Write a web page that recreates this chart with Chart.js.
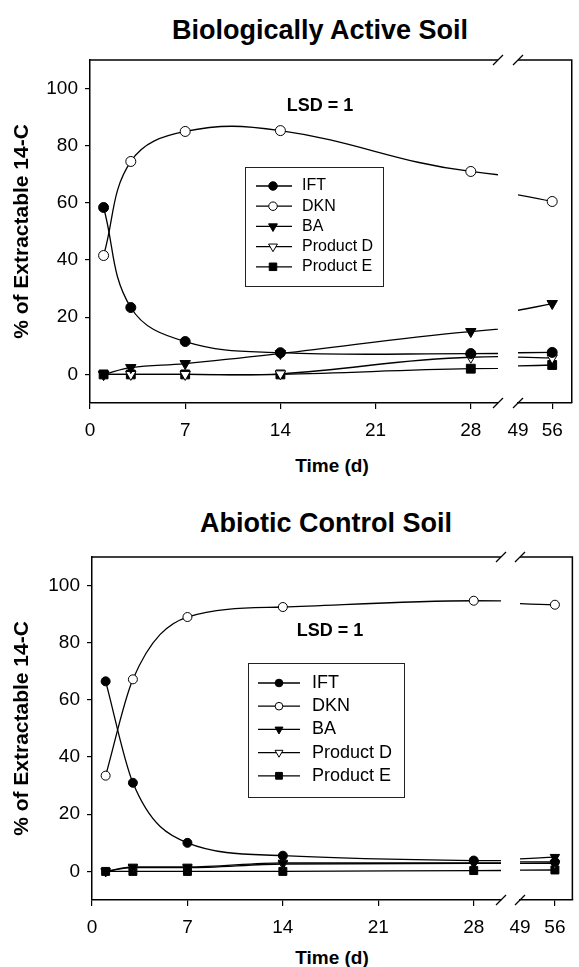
<!DOCTYPE html>
<html>
<head>
<meta charset="utf-8">
<script src="https://cdn.jsdelivr.net/npm/chart.js@4.4.0/dist/chart.umd.min.js"></script>
<style>
  html, body { margin: 0; padding: 0; background: #fff; }
  #page { position: relative; width: 579px; height: 967px; overflow: hidden; background: #fff;
          font-family: "Liberation Sans", Arial, sans-serif; color: #000; }
  canvas { position: absolute; left: 0; }
  .lbl { position: absolute; transform: translate(-50%, -50%); white-space: nowrap; font-weight: bold; }
</style>
</head>
<body>
<div id="page">
  <div class="lbl" style="left:320px;top:30px;font-size:27px">Biologically Active Soil</div>
  <canvas id="bioLeft" width="579" height="450" style="top:0px"></canvas>
  <canvas id="bioRight" width="579" height="450" style="top:0px"></canvas>
  <div class="lbl" style="left:320px;top:105px;font-size:18px">LSD = 1</div>
  <div class="lbl" style="left:332px;top:466px;font-size:19px">Time (d)</div>

  <div class="lbl" style="left:326px;top:523px;font-size:27px">Abiotic Control Soil</div>
  <canvas id="abioLeft" width="579" height="450" style="top:497px"></canvas>
  <canvas id="abioRight" width="579" height="450" style="top:497px"></canvas>
  <div class="lbl" style="left:330px;top:630px;font-size:18px">LSD = 1</div>
  <div class="lbl" style="left:332px;top:958px;font-size:19px">Time (d)</div>
</div>
<script>
// sampling days
const days = [1, 3, 7, 14, 28, 56];
const seriesNames = ['IFT', 'DKN', 'BA', 'Product D', 'Product E'];

// biologically active soil
const bioIFT = [58.4, 23.4, 11.5, 7.6, 7.3, 7.7];
const bioDKN = [41.6, 74.5, 85.0, 85.3, 71.0, 60.5];
const bioBA = [0, 2.4, 3.8, 7.3, 15.0, 24.8];
const bioProdD = [0, 0, 0, 0.2, 6.0, 5.8];
const bioProdE = [0, 0, 0, 0, 2.0, 3.3];

// abiotic control soil
const abioIFT = [66.5, 31.0, 10.0, 5.5, 3.8, 3.3];
const abioDKN = [33.5, 67.2, 89.0, 92.5, 94.7, 93.3];
const abioBA = [0, 1.6, 1.6, 3.0, 3.0, 5.0];
const abioProdD = [0, 1.3, 1.3, 2.6, 2.8, 2.8];
const abioProdE = [0, 0, 0, 0, 0.3, 0.5];

const yTicks = [0, 20, 40, 60, 80, 100];
const xTicksLeft = [0, 7, 14, 21, 28];
const xTicksRight = [49, 56];

const FONT = '"Liberation Sans", Arial, sans-serif';
Chart.defaults.font.family = FONT;
Chart.defaults.color = '#000';

const markers = [
  {style: 'circle', rot: 0, fill: '#000', k: 1},
  {style: 'circle', rot: 0, fill: '#fff', k: 1},
  {style: 'triangle', rot: 180, fill: '#000', k: 1.2},
  {style: 'triangle', rot: 180, fill: '#fff', k: 1.2},
  {style: 'rect', rot: 0, fill: '#000', k: 1.25}
];

const panels = [
  {id: 'bio', values: [bioIFT, bioDKN, bioBA, bioProdD, bioProdE], curve: 'default',
   axisW: 90, leftEnd: 498, rightStart: 518, rightMax: 60, r: 5,
   legend: {x: 245, y: 167, w: 138, h: 119, row0: 186, step: 20.2, lx1: 256, lx2: 292, mx: 273, tx: 302, font: 16}},
  {id: 'abio', values: [abioIFT, abioDKN, abioBA, abioProdD, abioProdE], curve: 'monotone',
   axisW: 92, leftEnd: 501, rightStart: 520, rightMax: 59.5, r: 4.5,
   legend: {x: 248, y: 166, w: 156, h: 134, row0: 186, step: 23.2, lx1: 258, lx2: 300, mx: 279, tx: 312, font: 18}}
];

const frame = {
  id: 'frame',
  afterDraw(chart, args, o) {
    const {left, right, top, bottom} = chart.chartArea;
    const ctx = chart.ctx;
    ctx.save();
    ctx.strokeStyle = '#000';
    ctx.lineWidth = 1.5;
    ctx.beginPath();
    ctx.moveTo(left, top);
    ctx.lineTo(right, top);
    if (o.side === 'right') ctx.lineTo(right, bottom);
    ctx.stroke();
    // axis break marks
    const bx = o.side === 'right' ? left : right;
    ctx.lineWidth = 1.2;
    [top, bottom].forEach(y => {
      ctx.beginPath();
      ctx.moveTo(bx - 5, y + 5);
      ctx.lineTo(bx + 5, y - 5);
      ctx.stroke();
    });
    ctx.restore();
  }
};

const legendBox = {
  id: 'legendBox',
  afterDatasetsDraw(chart, args, o) {
    const ctx = chart.ctx;
    ctx.save();
    ctx.fillStyle = '#fff';
    ctx.fillRect(o.x, o.y, o.w, o.h);
    ctx.strokeStyle = '#222';
    ctx.lineWidth = 1;
    ctx.strokeRect(o.x + 0.5, o.y + 0.5, o.w, o.h);
    chart.data.datasets.forEach((ds, i) => {
      const y = o.row0 + i * o.step;
      ctx.strokeStyle = '#000';
      ctx.lineWidth = 1.3;
      ctx.beginPath();
      ctx.moveTo(o.lx1, y);
      ctx.lineTo(o.lx2, y);
      ctx.stroke();
      ctx.fillStyle = ds.pointBackgroundColor;
      ctx.lineWidth = 1;
      Chart.helpers.drawPoint(ctx, {pointStyle: ds.pointStyle, rotation: ds.pointRotation,
        radius: ds.pointRadius * 0.85, borderWidth: 1}, o.mx, y);
      ctx.fillStyle = '#000';
      ctx.font = o.font + 'px ' + FONT;
      ctx.textBaseline = 'middle';
      ctx.textAlign = 'left';
      ctx.fillText(ds.label, o.tx, y);
    });
    ctx.restore();
  }
};

function makeDatasets(values, r, curve) {
  return values.map((vals, i) => ({
    label: seriesNames[i],
    data: days.map((d, j) => ({x: d, y: vals[j]})),
    borderColor: '#000',
    borderWidth: 1.3,
    tension: 0.4,
    cubicInterpolationMode: curve,
    fill: false,
    clip: 0,
    pointStyle: markers[i].style,
    pointRotation: markers[i].rot,
    pointBackgroundColor: markers[i].fill,
    pointBorderColor: '#000',
    pointBorderWidth: 1,
    pointRadius: r * markers[i].k
  }));
}

const tickFont = {size: 19};
const axisLine = {display: true, color: '#000', width: 1.5};

panels.forEach(p => {
  // left segment: 0 to 30 days
  new Chart(document.getElementById(p.id + 'Left'), {
    type: 'line',
    data: {datasets: makeDatasets(p.values, p.r, p.curve)},
    plugins: [frame, legendBox],
    options: {
      responsive: false,
      animation: false,
      devicePixelRatio: 1,
      events: [],
      layout: {padding: {left: 0, top: 60, right: 579 - p.leftEnd, bottom: 7}},
      scales: {
        x: {
          type: 'linear', min: 0, max: 30,
          afterBuildTicks: s => { s.ticks = xTicksLeft.map(v => ({value: v})); },
          afterFit: s => { s.height = 40; },
          ticks: {font: tickFont, padding: 10, maxRotation: 0, autoSkip: false, color: '#000'},
          grid: {drawOnChartArea: false, drawTicks: true, tickLength: 6, color: '#000', lineWidth: 1.2},
          border: axisLine
        },
        y: {
          type: 'linear', min: -10, max: 110,
          afterBuildTicks: s => { s.ticks = yTicks.map(v => ({value: v})); },
          afterFit: s => { s.width = p.axisW; },
          ticks: {font: tickFont, padding: 7, color: '#000'},
          grid: {drawOnChartArea: false, drawTicks: true, tickLength: 5, color: '#000', lineWidth: 1.2},
          border: axisLine,
          title: {display: true, text: '% of Extractable 14-C', color: '#000',
                  font: {size: 21, weight: 'bold'}, padding: {top: 10, bottom: 0}}
        }
      },
      plugins: {
        legend: {display: false},
        tooltip: {enabled: false},
        frame: {side: 'left'},
        legendBox: p.legend
      }
    }
  });

  // right segment: 49 to ~60 days
  new Chart(document.getElementById(p.id + 'Right'), {
    type: 'line',
    data: {datasets: makeDatasets(p.values, p.r, p.curve)},
    plugins: [frame],
    options: {
      responsive: false,
      animation: false,
      devicePixelRatio: 1,
      events: [],
      layout: {padding: {left: p.rightStart, top: 60, right: 1, bottom: 7}},
      scales: {
        x: {
          type: 'linear', min: 49, max: p.rightMax,
          afterBuildTicks: s => { s.ticks = xTicksRight.map(v => ({value: v})); },
          afterFit: s => { s.height = 40; },
          ticks: {font: tickFont, padding: 10, maxRotation: 0, autoSkip: false, color: '#000'},
          grid: {drawOnChartArea: false, drawTicks: true, tickLength: 6, lineWidth: 1.2,
                 color: c => c.index === 0 ? 'rgba(0,0,0,0)' : '#000'},
          border: axisLine
        },
        y: {
          type: 'linear', min: -10, max: 110, display: false
        }
      },
      plugins: {
        legend: {display: false},
        tooltip: {enabled: false},
        frame: {side: 'right'}
      }
    }
  });
});
</script>
</body>
</html>
